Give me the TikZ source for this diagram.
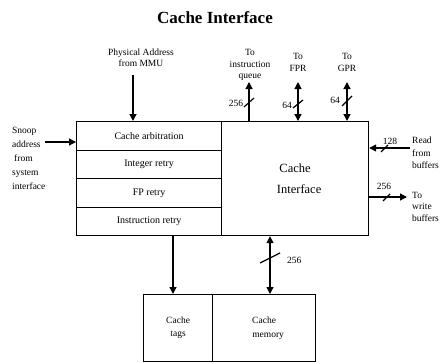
\documentclass[tikz,border=0pt]{standalone}
\usepackage{fontspec}
\setmainfont{Liberation Serif}
\usetikzlibrary{arrows.meta,calc}
\begin{document}
\begin{tikzpicture}[x=1pt,y=-1pt,
  box/.style={draw,line width=1.2pt,inner sep=0pt,anchor=north west,font=\fontsize{10}{12}\selectfont},
  arr/.style={line width=1.3pt,-{Triangle[length=7pt,width=7pt]}},
  darr/.style={line width=1.3pt,{Triangle[length=7pt,width=7pt]}-{Triangle[length=7pt,width=7pt]}},
  slash/.style={line width=1.2pt},
  lbl/.style={font=\fontsize{9.5}{11}\selectfont,align=center,inner sep=0pt},
  side/.style={font=\fontsize{9.5}{14}\selectfont,align=left,inner sep=0pt,anchor=north west}
]
\useasboundingbox (0,0) rectangle (441,362);

\node[font=\fontsize{17}{20}\selectfont\bfseries,inner sep=0pt] (title) at (215,18) {Cache Interface};

% left block rows
\node[box,minimum width=145pt,minimum height=28.5pt] (arb) at (76,121) {Cache arbitration};
\node[box,minimum width=145pt,minimum height=28.5pt] (intr) at (76,149.5) {Integer retry};
\node[box,minimum width=145pt,minimum height=28.5pt] (fpr) at (76,178) {FP retry};
\node[box,minimum width=145pt,minimum height=28.5pt] (instr) at (76,206.5) {Instruction retry};

% right block
\node[box,minimum width=147pt,minimum height=114pt,font=\fontsize{12.5}{21}\selectfont,align=center] (ci) at (221,121) {Cache\\\hspace*{8pt}Interface};

% bottom boxes
\node[box,minimum width=69pt,minimum height=67pt,align=center,font=\fontsize{9.5}{13}\selectfont] (tags) at (143,294) {Cache\\tags};
\node[box,minimum width=103pt,minimum height=67pt,align=center,font=\fontsize{9.5}{14}\selectfont] (mem) at (212,294) {Cache\\\hspace*{8pt}memory};

% top inputs/outputs
\coordinate (pa) at (133,75);
\node[lbl,anchor=south,font=\fontsize{9.5}{11}\selectfont] (palbl) at (141,67) {Physical Address\\from MMU};
\draw[arr] (pa) -- (pa |- arb.north);

\coordinate (iq) at (249,82);
\node[lbl,anchor=south,font=\fontsize{9.5}{11.5}\selectfont] (iqlbl) at (250,81) {To\\instruction\\queue};
\draw[arr] (iq |- ci.north) -- (iq);
\draw[slash] ($(iq)+(-5,25)$) -- ($(iq)+(5,16)$);
\node[lbl] (iqn) at (236,103) {256};

\coordinate (fp) at (298,82);
\node[lbl,anchor=south,font=\fontsize{9.5}{12}\selectfont] (fplbl) at (298,72) {To\\FPR};
\draw[darr] (fp |- ci.north) -- (fp);
\draw[slash] ($(fp)+(-5,26)$) -- ($(fp)+(5,18)$);
\node[lbl] (fpn) at (287,105) {64};

\coordinate (gp) at (347,82);
\node[lbl,anchor=south,font=\fontsize{9.5}{12}\selectfont] (gplbl) at (347,72) {To\\GPR};
\draw[darr] (gp |- ci.north) -- (gp);
\draw[slash] ($(gp)+(-5,24)$) -- ($(gp)+(5,14)$);
\node[lbl] (gpn) at (335,100) {64};

% snoop
\coordinate (sn) at (45,142);
\node[side] (snlbl) at (12,127) {Snoop\\address\\\hspace*{2pt}from\\system\\interface};
\draw[arr] (sn) -- (sn -| arb.west);

% right side
\coordinate (rd) at (410,148);
\draw[arr] (rd) -- (rd -| ci.east);
\draw[slash] ($(rd)+(-29,4)$) -- ($(rd)+(-22,-3)$);
\node[lbl] (rdn) at (390,141) {128};
\node[side,font=\fontsize{9.5}{12.5}\selectfont] (rdlbl) at (412,137) {Read\\from\\buffers};

\coordinate (wb) at (407,197);
\draw[arr] (wb -| ci.east) -- (wb);
\draw[slash] ($(wb)+(-24,4)$) -- ($(wb)+(-17,-3)$);
\node[lbl] (wbn) at (384,186) {256};
\node[side,font=\fontsize{9.5}{11.5}\selectfont] (wblbl) at (412,192) {To\\write\\buffers};

% bottom connections
\coordinate (tg) at (173,0);
\draw[arr] (tg |- instr.south) -- (tg |- tags.north);
\coordinate (mm) at (270,258);
\draw[darr] (mm |- ci.south) -- (mm |- mem.north);
\draw[slash] ($(mm)+(-10,5)$) -- ($(mm)+(10,-5)$);
\node[lbl,anchor=west] (mmn) at (287,260) {256};
\end{tikzpicture}
\end{document}
